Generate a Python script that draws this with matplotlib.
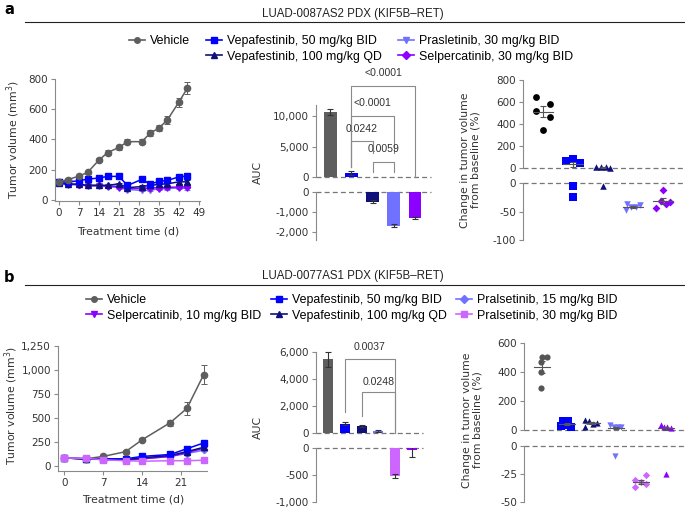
import matplotlib

matplotlib.use("Agg")
import matplotlib.pyplot as plt
import numpy as np
from matplotlib.lines import Line2D
from matplotlib.ticker import FuncFormatter

W, H = 685, 509

GREY = "#5e5e5e"
BLUE = "#0000ff"
NAVY = "#10107a"
LIGHT = "#7171ff"
PURPLE = "#8b00ff"
PINK = "#cc66ff"
SPINE = "#8a8a8a"
TEXT = "#333333"
DASH = "#777777"
LABEL_FONT = "Liberation Sans"

# ---- panel a: LUAD-0087AS2
days_a = [0, 3, 7, 10, 14, 17, 21, 24, 29, 32, 35, 38, 42, 45]
vehicle_a = [119, 133, 157, 181, 263, 312, 347, 385, 385, 442, 475, 530, 647, 740]
vehicle_a_err = [10, 10, 10, 12, 14, 15, 15, 18, 18, 20, 22, 25, 30, 40]
vepa50_a = [118, 118, 126, 137, 144, 155, 155, 95, 135, 104, 122, 128, 152, 157]
vepa50_a_err = [8, 8, 8, 8, 8, 8, 8, 8, 10, 10, 10, 12, 14, 15]
vepa100_a = [108, 104, 104, 95, 97, 95, 106, 80, 88, 95, 102, 106, 119, 119]
vepa100_a_err = [6, 6, 6, 6, 6, 6, 8, 6, 8, 8, 8, 10, 12, 12]
prals30_a = [115, 100, 100, 92, 90, 88, 80, 68, 62, 65, 72, 75, 78, 75]
prals30_a_err = [6, 6, 6, 6, 6, 6, 8, 6, 6, 6, 6, 8, 8, 8]
selp30_a = [115, 105, 100, 95, 95, 92, 88, 75, 75, 78, 80, 82, 85, 85]
selp30_a_err = [6, 6, 6, 6, 6, 6, 6, 6, 6, 6, 6, 8, 8, 8]

auc_a = [10700, 550, -480, -1690, -1300]
auc_a_err = [550, 350, 80, 80, 60]
auc_a_colors = [GREY, BLUE, NAVY, LIGHT, PURPLE]
# (group i, group j, label, bar height, left leg end, right leg end, label height)
brackets_a = [
    (2, 3, "0.0059", 2480, 830, 830, 4590),
    (1, 2, "0.0242", 5910, 1660, 3870, 7900),
    (1, 3, "<0.0001", 10100, 1660, 3870, 12150),
    (1, 4, "<0.0001", 15070, 1660, 0, 17120),
]

change_a = [
    [647, 583, 522, 461, 345],
    [61, 85, 49, -6, -25],
    [6, 6, 6, 4, -6],
    [-37, -47, -42, -42, -39],
    [-13, -43, -32, -37, -34],
]
jitter_a = [
    [-0.22, 0.22, -0.22, 0.22, 0.0],
    [-0.22, 0.0, 0.22, 0.0, 0.0],
    [-0.22, -0.06, 0.11, 0.22, 0.0],
    [-0.19, -0.22, -0.06, 0.11, 0.22],
    [0.0, -0.22, -0.06, 0.11, 0.22],
]

# ---- panel b: LUAD-0077AS1
days_b = [0, 4, 7, 11, 14, 19, 22, 25]
vehicle_b = [83, 76, 100, 149, 274, 451, 600, 951]
vehicle_b_err = [8, 8, 10, 15, 18, 30, 65, 100]
vepa50_b = [85, 75, 75, 75, 100, 120, 180, 240]
vepa50_b_err = [5, 5, 5, 6, 8, 10, 15, 20]
vepa100_b = [85, 72, 70, 65, 85, 110, 150, 195]
vepa100_b_err = [5, 5, 5, 5, 6, 8, 12, 15]
prals15_b = [85, 72, 68, 62, 75, 100, 130, 165]
prals15_b_err = [5, 5, 5, 5, 6, 8, 10, 12]
selp10_b = [85, 72, 70, 62, 75, 100, 140, 185]
selp10_b_err = [5, 5, 5, 5, 6, 8, 10, 12]
prals30_b = [85, 80, 65, 55, 50, 55, 55, 60]
prals30_b_err = [5, 5, 5, 5, 5, 5, 5, 5]

auc_b = [5450, 710, 540, 170, -520, -40]
auc_b_err = [520, 100, 60, 60, 30, 120]
auc_b_colors = [GREY, BLUE, NAVY, LIGHT, PINK, PURPLE]
brackets_b = [
    (1, 4, "0.0037", 5480, 1555, 0, 6370),
    (2, 4, "0.0248", 3040, 1260, 0, 3780),
]

change_b = [
    [506, 506, 467, 398, 287],
    [28, 62, 62, 23, 34],
    [69, 60, 41, 51, 18],
    [32, 18, 18, 18, -8.5],
    [-30.6, -36.8, -32.4, -26.2, -33.5],
    [34, 18, 18, 11, -24.7],
]
jitter_b = [
    [0.0, 0.2, -0.04, -0.04, -0.04],
    [-0.24, -0.15, 0.05, 0.16, -0.04],
    [-0.28, -0.12, 0.04, 0.2, -0.25],
    [-0.24, -0.08, 0.05, 0.2, -0.04],
    [-0.25, -0.25, -0.03, 0.2, 0.2],
    [-0.21, -0.08, 0.05, 0.19, 0.0],
]


def px_axes(fig, left, top, right, bottom):
    return fig.add_axes([left / W, 1 - bottom / H, (right - left) / W, (bottom - top) / H])


def style(ax, bottom=True):
    for side in ("top", "right"):
        ax.spines[side].set_visible(False)
    for side in ("left", "bottom"):
        ax.spines[side].set_color(SPINE)
        ax.spines[side].set_linewidth(0.8)
    ax.tick_params(colors=SPINE, labelcolor=TEXT, length=3, width=0.8, labelsize=7.5, pad=2)
    if not bottom:
        ax.spines["bottom"].set_visible(False)
        ax.set_xticks([])
    ax.set_facecolor("none")
    ax.yaxis.set_major_formatter(FuncFormatter(lambda v, _: f"{v:,.0f}"))


def header(fig, letter, title, y_letter, y_title, y_line):
    fig.text(4 / W, 1 - y_letter / H, letter, fontsize=10.5, fontweight="bold", va="center")
    fig.text(353 / W, 1 - y_title / H, title, fontsize=8.3, family=LABEL_FONT, ha="center", va="center",
             color="#222222")
    fig.add_artist(Line2D([25 / W, 1.0], [1 - y_line / H] * 2, color="#222222", lw=0.8))


def legend(fig, entries, x, y, spacing):
    handles, labels = [], []
    for label, color, marker in entries:
        if label is None:
            handles.append(Line2D([], [], alpha=0))
            labels.append("")
        else:
            handles.append(Line2D([], [], color=color, marker=marker, ms=4, lw=1.2))
            labels.append(label)
    fig.legend(handles, labels, ncol=3, loc="upper left", bbox_to_anchor=(x / W, 1 - y / H),
               frameon=False, prop={"family": LABEL_FONT, "size": 8.9}, handlelength=1.3,
               handletextpad=0.4, columnspacing=spacing, labelspacing=0.3, borderpad=0, borderaxespad=0)


def growth(ax, days, series):
    for values, errs, color, marker, ms in series:
        ax.errorbar(days, values, yerr=errs, color=color, marker=marker, ms=ms, lw=1.1,
                    elinewidth=0.7, capsize=2, capthick=0.7, clip_on=False)


def broken(fig, left, right, upper_box, lower_box, xlim):
    upper = px_axes(fig, left, upper_box[0], right, upper_box[1])
    lower = px_axes(fig, left, lower_box[0], right, lower_box[1])
    for ax in (upper, lower):
        style(ax, bottom=False)
        ax.set_xlim(*xlim)
        ax.axhline(0, color=DASH, lw=0.9, ls=(0, (4, 2.5)), clip_on=False, zorder=0)
    return upper, lower


def auc_bars(upper, lower, values, errs, colors):
    x = np.arange(len(values))
    for ax in (upper, lower):
        ax.bar(x, values, width=0.6, color=colors, zorder=2)
    for xi, v, e in zip(x, values, errs):
        ax = upper if v >= 0 else lower
        ax.errorbar(xi, v, yerr=e, color="#333333", lw=0.8, capsize=2.5, capthick=0.8, zorder=3)


def brackets(ax, items):
    for i, j, label, top, left_end, right_end, text_y in items:
        ax.plot([i, i, j, j], [left_end, top, top, right_end], color="#8a8a8a", lw=0.8, clip_on=False)
        ax.text((i + j) / 2, text_y, label, ha="center", va="center", fontsize=7.6,
                family=LABEL_FONT, color=TEXT)


def dots(upper, lower, groups, jitters, styles):
    for i, (values, jit, (color, marker, size)) in enumerate(zip(groups, jitters, styles)):
        values = np.asarray(values, dtype=float)
        xs = i + np.asarray(jit)
        pos = values >= 0
        upper.scatter(xs[pos], values[pos], s=size, color=color, marker=marker, lw=0, clip_on=False, zorder=3)
        lower.scatter(xs[~pos], values[~pos], s=size, color=color, marker=marker, lw=0, clip_on=False, zorder=3)
        mean = values.mean()
        sem = values.std(ddof=1) / np.sqrt(len(values))
        ax = upper if mean >= 0 else lower
        ax.plot([i - 0.32, i + 0.32], [mean, mean], color="#555555", lw=0.8, zorder=4)
        ax.errorbar(i, mean, yerr=sem, color="#555555", lw=0.8, capsize=2.5, capthick=0.8, zorder=4)


def main():
    plt.rcParams["font.family"] = ["DejaVu Sans"]
    fig = plt.figure(figsize=(W / 100, H / 100), dpi=100)

    # ---------------- a ----------------
    header(fig, "a", "LUAD-0087AS2 PDX (KIF5B\u2013RET)", 10, 14, 22)
    legend(fig, [("Vehicle", GREY, "o"), (None, None, None),
                 ("Vepafestinib, 50 mg/kg BID", BLUE, "s"), ("Vepafestinib, 100 mg/kg QD", NAVY, "^"),
                 ("Prasletinib, 30 mg/kg BID", LIGHT, "v"), ("Selpercatinib, 30 mg/kg BID", PURPLE, "D")],
           129, 35, 1.3)

    ax = px_axes(fig, 55, 79, 200, 201)
    style(ax)
    growth(ax, days_a, [
        (prals30_a, prals30_a_err, LIGHT, "v", 4),
        (selp30_a, selp30_a_err, PURPLE, "D", 3.2),
        (vepa100_a, vepa100_a_err, NAVY, "^", 4),
        (vepa50_a, vepa50_a_err, BLUE, "s", 3.8),
        (vehicle_a, vehicle_a_err, GREY, "o", 4.5),
    ])
    ax.set_xlim(-1.4, 49.4)
    ax.set_ylim(-8, 800)
    ax.set_xticks(range(0, 50, 7))
    ax.set_yticks(range(0, 801, 200))
    fig.text(128 / W, 1 - 232 / H, "Treatment time (d)", fontsize=7.8, ha="center", va="center", color=TEXT)
    fig.text(13 / W, 1 - 140 / H, "Tumor volume (mm$^{3}$)", fontsize=7.8, rotation=90,
             ha="center", va="center", color=TEXT)

    upper, lower = broken(fig, 316, 431, (65, 176.7), (192.3, 240), (-0.67, 4.76))
    auc_bars(upper, lower, auc_a, auc_a_err, auc_a_colors)
    upper.set_ylim(0, 18500)
    upper.spines["left"].set_bounds(0, 11870)
    upper.set_yticks([0, 5000, 10000])
    lower.set_ylim(-2420, 0)
    lower.set_yticks([0, -1000, -2000])
    brackets(upper, brackets_a)
    fig.text(258 / W, 1 - 172 / H, "AUC", fontsize=7.8, rotation=90, ha="center", va="center", color=TEXT)

    upper, lower = broken(fig, 523, 683, (80, 168), (183, 240), (-0.67, 4.67))
    dots(upper, lower, change_a, jitter_a, [
        ("#000000", "o", 24), (BLUE, "s", 26), (NAVY, "^", 22), (LIGHT, "v", 22), (PURPLE, "D", 16)])
    upper.set_ylim(0, 800)
    upper.set_yticks(range(0, 801, 200))
    lower.set_ylim(-100, 0)
    lower.set_yticks([0, -50, -100])
    fig.text(470 / W, 1 - 160 / H, "Change in tumor volume\nfrom baseline (%)", fontsize=7.8,
             rotation=90, ha="center", va="center", color=TEXT, linespacing=1.1)

    # ---------------- b ----------------
    header(fig, "b", "LUAD-0077AS1 PDX (KIF5B\u2013RET)", 277, 276, 285)
    legend(fig, [("Vehicle", GREY, "o"), ("Selpercatinib, 10 mg/kg BID", PURPLE, "v"),
                 ("Vepafestinib, 50 mg/kg BID", BLUE, "s"), ("Vepafestinib, 100 mg/kg QD", NAVY, "^"),
                 ("Pralsetinib, 15 mg/kg BID", LIGHT, "D"), ("Pralsetinib, 30 mg/kg BID", PINK, "s")],
           86, 294, 0.75)

    ax = px_axes(fig, 58, 346, 207, 471)
    style(ax)
    growth(ax, days_b, [
        (prals15_b, prals15_b_err, LIGHT, "D", 3.2),
        (selp10_b, selp10_b_err, PURPLE, "v", 4),
        (vepa100_b, vepa100_b_err, NAVY, "^", 4),
        (vepa50_b, vepa50_b_err, BLUE, "s", 4),
        (vehicle_b, vehicle_b_err, GREY, "o", 4.5),
        (prals30_b, prals30_b_err, PINK, "s", 4),
    ])
    ax.set_xlim(-1.1, 25.6)
    ax.set_ylim(-52, 1250)
    ax.set_xticks([0, 7, 14, 21])
    ax.set_yticks(range(0, 1251, 250))
    fig.text(133 / W, 1 - 499 / H, "Treatment time (d)", fontsize=7.8, ha="center", va="center", color=TEXT)
    fig.text(11 / W, 1 - 406 / H, "Tumor volume (mm$^{3}$)", fontsize=7.8, rotation=90,
             ha="center", va="center", color=TEXT)

    upper, lower = broken(fig, 316, 423, (340, 433.3), (448, 501.7), (-0.71, 5.65))
    auc_bars(upper, lower, auc_b, auc_b_err, auc_b_colors)
    upper.set_ylim(0, 6886)
    upper.spines["left"].set_bounds(0, 6000)
    upper.set_yticks([0, 2000, 4000, 6000])
    lower.set_ylim(-1000, 0)
    lower.set_yticks([0, -500, -1000])
    brackets(upper, brackets_b)
    fig.text(258 / W, 1 - 427 / H, "AUC", fontsize=7.8, rotation=90, ha="center", va="center", color=TEXT)

    upper, lower = broken(fig, 524, 685, (343, 430), (446, 502), (-0.72, 5.76))
    dots(upper, lower, change_b, jitter_b, [
        ("#555555", "o", 20), (BLUE, "s", 34), (NAVY, "^", 20), (LIGHT, "v", 20), (PINK, "D", 14),
        (PURPLE, "^", 20)])
    upper.set_ylim(0, 600)
    upper.set_yticks(range(0, 601, 200))
    lower.set_ylim(-50, 0)
    lower.set_yticks([0, -25, -50])
    fig.text(472 / W, 1 - 420 / H, "Change in tumor volume\nfrom baseline (%)", fontsize=7.8,
             rotation=90, ha="center", va="center", color=TEXT, linespacing=1.1)

    fig.savefig("out.png", dpi=100)
    plt.close(fig)


if __name__ == "__main__":
    main()
